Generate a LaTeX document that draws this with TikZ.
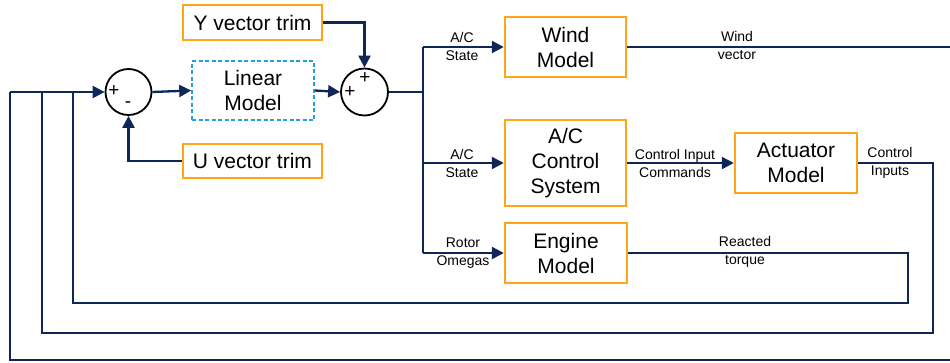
\documentclass[tikz,border=0pt]{standalone}
\usepackage{fontspec}
\setmainfont{Liberation Sans}
\usetikzlibrary{arrows.meta}
\definecolor{navy}{RGB}{14,38,88}
\definecolor{boxorange}{RGB}{255,165,25}
\definecolor{dashblue}{RGB}{30,160,225}
\tikzset{
  blockbox/.style={draw=boxorange, line width=2.4pt, fill=white, align=center, inner sep=0pt,
    font=\fontsize{21}{25}\selectfont},
  linbox/.style={draw=dashblue, line width=1.6pt, dash pattern=on 4pt off 2.5pt, align=center, inner sep=0pt,
    font=\fontsize{21}{25}\selectfont},
  sumnode/.style={circle, draw=black, line width=1.8pt, inner sep=0pt},
  sig/.style={draw=navy, line width=2.3pt},
  sigarrow/.style={sig, -{Triangle[length=12pt,width=12pt]}},
  lbl/.style={align=center, inner sep=0pt, font=\fontsize{14}{17}\selectfont},
  sgn/.style={inner sep=0pt, font=\fontsize{19}{19}\selectfont}
}
\begin{document}
\begin{tikzpicture}[x=1pt,y=-1pt]
\useasboundingbox (0,0) rectangle (950,362);
% blocks
\node[blockbox, minimum width=139pt, minimum height=35pt] (ytrim) at (252.5,22.5) {Y vector trim};
\node[linbox, minimum width=122pt, minimum height=59pt] (lin) at (253,90.5) {Linear\\Model};
\node[blockbox, minimum width=139pt, minimum height=34pt] (utrim) at (252.5,161) {U vector trim};
\node[sumnode, minimum size=46pt] (s1) at (128.5,92) {};
\node[sumnode, minimum size=47pt] (s2) at (364.5,92) {};
\node[blockbox, minimum width=121pt, minimum height=60pt] (wind) at (565.5,47) {Wind\\Model};
\node[blockbox, minimum width=121pt, minimum height=86pt] (acc) at (565.5,163) {A/C\\Control\\System};
\node[blockbox, minimum width=122pt, minimum height=60pt] (act) at (796,163) {Actuator\\Model};
\node[blockbox, minimum width=122pt, minimum height=60pt] (eng) at (566,253) {Engine\\Model};
% signs
\node[sgn] (p1) at (114,91) {+};
\node[sgn] (m1) at (128,105) {-};
\node[sgn] (p2) at (365,78) {+};
\node[sgn] (p3) at (350,92) {+};
% coordinates
\coordinate (br) at (423,92);
\coordinate (brw) at (423,47);
\coordinate (brc) at (423,163);
\coordinate (bre) at (423,253);
\coordinate (fin) at (10,92);
\coordinate (windend) at (951,47);
\coordinate (outerR) at (951,360);
\coordinate (outerL) at (10,360);
\coordinate (ciR) at (933,163);
\coordinate (ciD) at (933,333);
\coordinate (ciL) at (42,333);
\coordinate (ciU) at (42,92);
\coordinate (rtR) at (908,253);
\coordinate (rtD) at (908,303);
\coordinate (rtL) at (73,303);
\coordinate (rtU) at (73,92);
% forward path
\draw[sigarrow] (fin) -- (s1.west);
\draw[sigarrow] (s1.east) -- (lin.west);
\draw[sigarrow] (lin.east) -- (s2.west);
\draw[sigarrow] (ytrim.east) -| (s2.north);
\draw[sigarrow] (utrim.west) -| (s1.south);
\draw[sig] (s2.east) -- (br);
\draw[sig] (brw) -- (bre);
\draw[sigarrow] (brw) -- (wind.west);
\draw[sigarrow] (brc) -- (acc.west);
\draw[sigarrow] (bre) -- (eng.west);
\draw[sigarrow] (acc.east) -- (act.west);
% feedback
\draw[sig] (wind.east) -- (windend);
\draw[sig] (outerR) -- (outerL) -- (fin);
\draw[sig] (act.east) -- (ciR) -- (ciD) -- (ciL) -- (ciU);
\draw[sig] (eng.east) -- (rtR) -- (rtD) -- (rtL) -- (rtU);
% labels
\node[lbl] (l1) at (462,46) {A/C\\[1pt]State};
\node[lbl] (l2) at (462,163) {A/C\\[1pt]State};
\node[lbl] (l3) at (463,253) {Rotor\\[1pt]Omegas};
\node[lbl] (l4) at (737,45) {Wind\\[1pt]vector};
\node[lbl] (l5) at (675,163) {Control Input\\[1pt]Commands};
\node[lbl] (l6) at (890,163) {Control\\[1pt]Inputs};
\node[lbl] (l7) at (745,252) {Reacted\\[1pt]torque};
\end{tikzpicture}
\end{document}
